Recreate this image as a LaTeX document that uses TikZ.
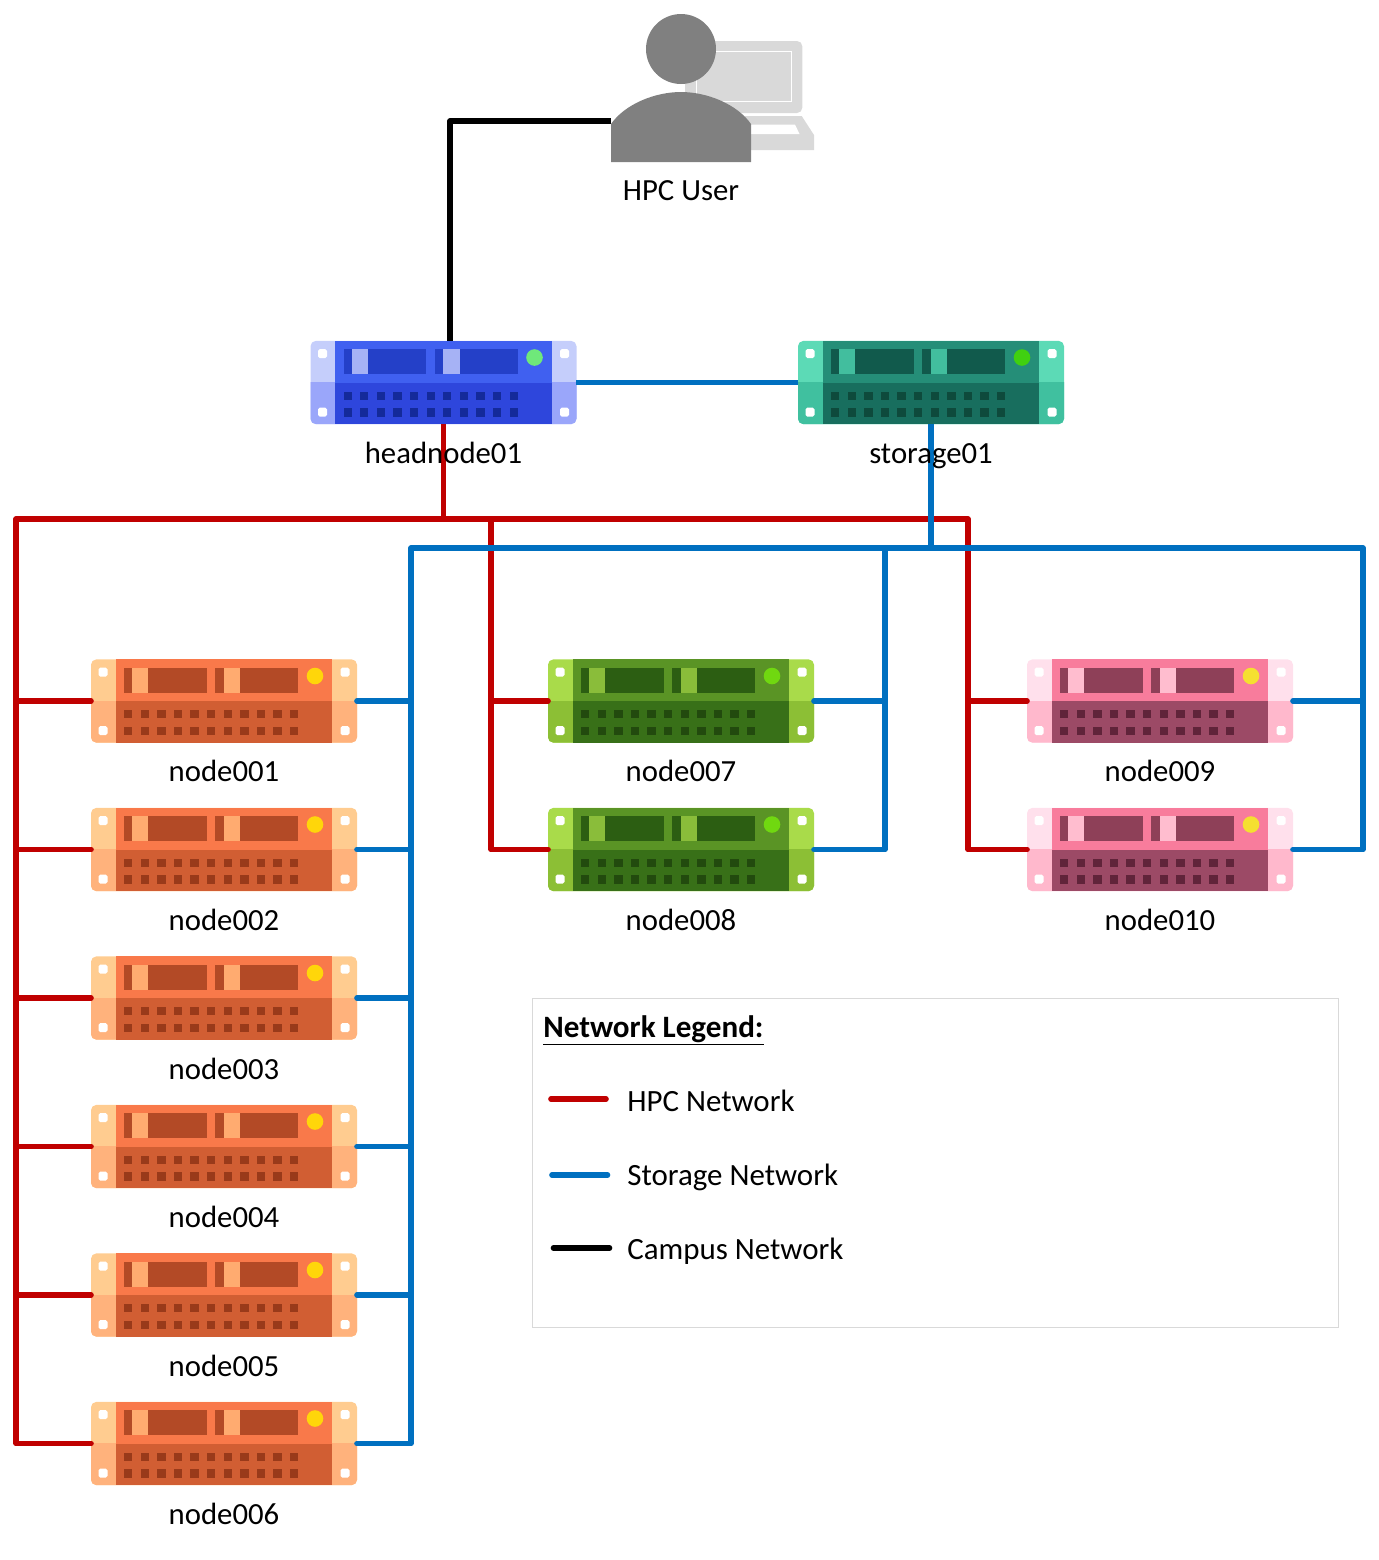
\documentclass[tikz,border=0pt]{standalone}
\usepackage{fontspec}
\setmainfont{Carlito}
\usetikzlibrary{positioning}
\definecolor{hpcred}{HTML}{C00000}
\definecolor{stoblue}{HTML}{0070C0}
\definecolor{orgEarT}{HTML}{FFCC90}
\definecolor{orgEarB}{HTML}{FFB27C}
\definecolor{orgTop}{HTML}{F9794A}
\definecolor{orgBot}{HTML}{D15E33}
\definecolor{orgSlot}{HTML}{B34A26}
\definecolor{orgLite}{HTML}{FFAB70}
\definecolor{orgDot}{HTML}{993A1A}
\definecolor{orgLed}{HTML}{FFD60A}
\definecolor{grnEarT}{HTML}{A9DB4A}
\definecolor{grnEarB}{HTML}{8CBF35}
\definecolor{grnTop}{HTML}{5A9425}
\definecolor{grnBot}{HTML}{387018}
\definecolor{grnSlot}{HTML}{2C5E12}
\definecolor{grnLite}{HTML}{8ABD3A}
\definecolor{grnDot}{HTML}{224A0E}
\definecolor{grnLed}{HTML}{70D810}
\definecolor{bluEarT}{HTML}{C5CEFB}
\definecolor{bluEarB}{HTML}{9AA6FA}
\definecolor{bluTop}{HTML}{4060F0}
\definecolor{bluBot}{HTML}{2E46DC}
\definecolor{bluSlot}{HTML}{2440C8}
\definecolor{bluLite}{HTML}{A6B2F5}
\definecolor{bluDot}{HTML}{142A9A}
\definecolor{bluLed}{HTML}{6FE87A}
\definecolor{tealEarT}{HTML}{5CDAB6}
\definecolor{tealEarB}{HTML}{40C09F}
\definecolor{tealTop}{HTML}{258E78}
\definecolor{tealBot}{HTML}{186E5E}
\definecolor{tealSlot}{HTML}{115A4C}
\definecolor{tealLite}{HTML}{42BE9E}
\definecolor{tealDot}{HTML}{0E4A3C}
\definecolor{tealLed}{HTML}{40D010}
\definecolor{pnkEarT}{HTML}{FFE0EC}
\definecolor{pnkEarB}{HTML}{FFB8CC}
\definecolor{pnkTop}{HTML}{F87C9C}
\definecolor{pnkBot}{HTML}{9C4A66}
\definecolor{pnkSlot}{HTML}{8E4058}
\definecolor{pnkLite}{HTML}{FFBDCF}
\definecolor{pnkDot}{HTML}{60243A}
\definecolor{pnkLed}{HTML}{F5E030}
\tikzset{
  srvbox/.style={minimum width=5.32cm,minimum height=1.664cm,inner sep=0pt,outer sep=0pt},
  srvlbl/.style={font=\fontsize{17.5}{21}\selectfont,inner sep=0pt,anchor=base},
  usrbox/.style={minimum width=2.8cm,minimum height=2.96cm,inner sep=0pt,outer sep=0pt},
  netline/.style={line width=3.2pt,line join=round},
  hpcnet/.style={netline,hpcred},
  stonet/.style={netline,stoblue},
  campusnet/.style={netline,black},
  stub/.style={line cap=round,shorten <=1.6pt},
  keyline/.style={line cap=round},
  legendbox/.style={draw=black!15,line width=0.5pt,minimum width=16.14cm,minimum height=6.58cm,inner sep=0pt},
  legendlbl/.style={font=\fontsize{17.6}{21}\selectfont,inner sep=0pt,anchor=base west},
  legendttl/.style={font=\fontsize{17.7}{21}\selectfont\bfseries,inner sep=0pt,anchor=base west},
}
\newcommand{\srv}[4]{%
  \begin{scope}[shift={(#2,#3)}]
    \fill[#4EarT,rounded corners=3pt] (-133,-41.6) rectangle (133,41.6);
    \begin{scope}
      \clip (-133,0) rectangle (133,41.6);
      \fill[#4EarB,rounded corners=3pt] (-133,-41.6) rectangle (133,41.6);
    \end{scope}
    \fill[#4Top] (-108.5,-41.6) rectangle (108,0);
    \fill[#4Bot] (-108.5,0) rectangle (108,41.6);
    \fill[#4Slot] (-100,-33.3) rectangle (-17.3,-8.3);
    \fill[#4Slot] (-8.7,-33.3) rectangle (74.3,-8.3);
    \fill[#4Lite] (-91.7,-33.3) rectangle (-75.7,-8.3);
    \fill[#4Lite] (-0.3,-33.3) rectangle (16,-8.3);
    \fill[#4Led] (91,-25) circle (8.3);
    \foreach \i in {0,...,10}
      \foreach \dy in {9,25.7}
        \fill[#4Dot] ({-100+16.6*\i},\dy) rectangle ++(8.3,8.3);
    \foreach \hx/\hy in {-121/-29,121/-29,-121/29.7,121/29.7}
      \fill[white,rounded corners=1pt] ({\hx-4.5},{\hy-4.5}) rectangle ++(9,9);
  \end{scope}
  \node[srvbox] (#1) at (#2,#3) {};
}
\begin{document}
\begin{tikzpicture}[x=0.02cm,y=-0.02cm]
  \useasboundingbox (0,0) rectangle (1379,1560);
  % laptop and user
  \fill[black!15,rounded corners=3pt] (685,113) -- (685,41) -- (802.3,41) -- (802.3,113) -- cycle;
  \draw[white,line width=0.5pt] (696.7,51) rectangle (791.7,101.7);
  \fill[black!15] (745,116) -- (801.7,116) -- (814,135) -- (814,150) -- (745,150) -- cycle;
  \fill[white] (745,124.5) -- (795,124.5) -- (799.5,134) -- (745,134) -- cycle;
  \fill[black!50] (681,49) circle (35);
  \fill[black!50] (611,162) -- (611,124) .. controls (625,104) and (655,92) .. (681,92)
    .. controls (707,92) and (737,104) .. (751,124) -- (751,162) -- cycle;
  \node[usrbox] (hpcuser) at (681,88) {};
  % servers
  \srv{headnode01}{443.5}{382.5}{blu}
  \srv{storage01}{931}{382.5}{teal}
  \foreach \n/\y in {001/701,002/849.5,003/998,004/1146.5,005/1295,006/1443.5}
    {\srv{node\n}{224}{\y}{org}}
  \srv{node007}{681}{701}{grn}
  \srv{node008}{681}{849.5}{grn}
  \srv{node009}{1160}{701}{pnk}
  \srv{node010}{1160}{849.5}{pnk}
  \coordinate (hpcW) at (16,519);
  \coordinate (hpcM) at (491,519);
  \coordinate (hpcE) at (968,519);
  \coordinate (stoW) at (411,548);
  \coordinate (stoM) at (885,548);
  \coordinate (stoE) at (1363,548);
  \coordinate (campusC) at (450,121);
  % networks
  \draw[campusnet] (hpcuser.west |- campusC) -- (campusC) -- (campusC |- headnode01.north);
  \draw[hpcnet] (headnode01.south) -- (headnode01.south |- hpcW);
  \draw[hpcnet,keyline] (node006.west) -- (node006.west -| hpcW) -- (hpcW) -- (hpcE)
    -- (node010.west -| hpcE) -- (node010.west);
  \draw[hpcnet,keyline] (hpcM) -- (node008.west -| hpcM) -- (node008.west);
  \foreach \n in {001,002,003,004,005}
    \draw[hpcnet,stub] (node\n.west -| hpcW) -- (node\n.west);
  \draw[hpcnet,stub] (node007.west -| hpcM) -- (node007.west);
  \draw[hpcnet,stub] (node009.west -| hpcE) -- (node009.west);
  \draw[stonet] (headnode01.east) -- (storage01.west);
  \draw[stonet] (storage01.south) -- (storage01.south |- stoW);
  \draw[stonet,keyline] (node006.east) -- (node006.east -| stoW) -- (stoW) -- (stoE)
    -- (node010.east -| stoE) -- (node010.east);
  \draw[stonet,keyline] (stoM) -- (node008.east -| stoM) -- (node008.east);
  \foreach \n in {001,002,003,004,005}
    \draw[stonet,stub] (node\n.east -| stoW) -- (node\n.east);
  \draw[stonet,stub] (node007.east -| stoM) -- (node007.east);
  \draw[stonet,stub] (node009.east -| stoE) -- (node009.east);
  % labels
  \node[srvlbl] (hpcuserlbl) at (681,200.5) {HPC User};
  \foreach \n in {headnode01,storage01,node001,node002,node003,node004,node005,node006,
    node007,node008,node009,node010}
    \node[srvlbl] (\n lbl) at ([yshift=-1.62cm]\n.center) {\n};
  % legend
  \node[legendbox] (legend) at (935.5,1162.5) {};
  \node[legendttl] (legendhead) at (543,1037) {\underline{Network Legend:}};
  \coordinate (hpckeyA) at (551,1099);
  \coordinate (hpckeyB) at (606,1099);
  \coordinate (stokeyA) at (552,1175);
  \coordinate (stokeyB) at (607.5,1175);
  \coordinate (campuskeyA) at (553.5,1248);
  \coordinate (campuskeyB) at (609.5,1248);
  \draw[hpcnet,keyline] (hpckeyA) -- (hpckeyB);
  \draw[stonet,keyline] (stokeyA) -- (stokeyB);
  \draw[campusnet,keyline] (campuskeyA) -- (campuskeyB);
  \node[legendlbl] (hpckey) at (627,1111) {HPC Network};
  \node[legendlbl] (stokey) at (627,1185) {Storage Network};
  \node[legendlbl] (campuskey) at (627,1259.5) {Campus Network};
\end{tikzpicture}
\end{document}
